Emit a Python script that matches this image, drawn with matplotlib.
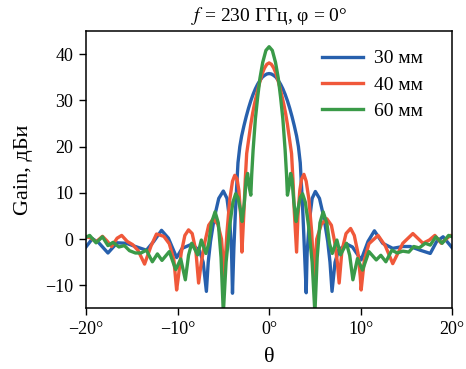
import matplotlib
matplotlib.use("Agg")
import matplotlib.pyplot as plt

plt.rcParams['font.family'] = ['Liberation Serif', 'DejaVu Serif']
plt.rcParams['mathtext.fontset'] = 'stix'
plt.rcParams['axes.unicode_minus'] = True

# 30 мм (синяя)
theta_30 = [-20, -19.3, -18.6, -17.6, -16.6, -15.6, -14.6, -13.4, -12.6, -11.75, -11.0, -10.1,
            -9.5, -8.45, -7.6, -7.2, -6.85, -6.65, -6.4, -6.0, -5.5, -5.0, -4.6, -4.3, -4.1, -4.0,
            -3.85, -3.7, -3.55, -3.4, -3.2, -3.0, -2.75, -2.5, -2.25, -2.0, -1.75, -1.5, -1.25,
            -1.0, -0.75, -0.5, -0.25, 0,
            0.25, 0.5, 0.75, 1.0, 1.25, 1.5, 1.75, 2.0, 2.25, 2.5, 2.75, 3.0, 3.2, 3.4, 3.55,
            3.7, 3.85, 4.05,
            4.15, 4.4, 4.7, 5.05, 5.5, 6.0, 6.4, 6.65, 6.87, 7.2, 7.6, 8.5,
            9.1, 10.05, 10.8, 11.5, 12.4, 13.5, 14.6, 15.4, 16.5, 17.6, 18.3, 19.0, 20]
gain_30 = [-1.7, 0.1, -0.8, -3.0, -0.8, -0.9, -1.6, -2.4, -0.5, 1.9, 0.2, -4.0,
           -2.0, -1.1, -2.5, -5.0, -11.3, -5.0, -0.5, 4.5, 8.8, 10.4, 8.8, 4.0, -3.0, -11.7,
           -2.0, 5.0, 11.0, 16.5, 20.0, 22.3, 24.5, 26.5, 28.3, 29.9, 31.3, 32.5, 33.5,
           34.3, 35.0, 35.4, 35.7, 35.8,
           35.7, 35.4, 35.0, 34.3, 33.5, 32.5, 31.3, 29.9, 28.3, 26.5, 24.5, 22.3, 20.0, 16.5, 11.0,
           5.0, -2.0, -11.6,
           -3.0, 4.0, 8.8, 10.3, 8.8, 4.5, -0.5, -5.0, -11.3, -5.0, -2.3, -1.1,
           -1.7, -4.5, -0.5, 1.8, -0.9, -2.0, -1.6, -1.6, -2.4, -3.1, -0.5, 0.5, -1.9]

# 40 мм (красная)
theta_40 = [-20, -19.5, -18.9, -18.2, -17.7, -17.2, -16.6, -16.1, -15.5, -14.9, -14.3, -13.6,
            -12.9, -12.3, -11.5, -10.9, -10.4, -10.1, -9.9, -9.6, -9.2, -8.8, -8.4, -8.0, -7.7,
            -7.4, -7.0, -6.6, -6.1, -5.6, -5.2, -4.9, -4.6, -4.3, -4.0, -3.75, -3.5, -3.3, -3.1,
            -2.97, -2.75, -2.6, -2.45, -2.2, -2.0, -1.8, -1.6, -1.4, -1.2, -1.0, -0.75, -0.5,
            -0.25, 0,
            0.25, 0.5, 0.75, 1.0, 1.2, 1.4, 1.6, 1.8, 2.0, 2.2, 2.45, 2.6, 2.75, 3.0,
            3.15, 3.35, 3.55, 3.8, 4.05, 4.35, 4.65, 4.9, 5.2, 5.7, 6.3, 6.8, 7.15, 7.45, 7.65,
            7.95, 8.4, 8.9, 9.3, 9.7, 9.95, 10.05, 10.4, 10.9, 11.9, 12.7, 13.5, 14.6, 15.7,
            16.8, 17.5, 18.1, 18.8, 19.8, 20]
gain_40 = [0.5, 0.3, -0.6, 0.6, -0.4, -1.6, 0.2, 0.8, -0.5, -1.2, -2.5, -5.4,
           -1.5, 1.1, 0.6, -1.0, -4.5, -11.0, -8.0, -3.0, 0.8, 2.0, 1.2, -2.5, -9.5,
           -5.0, -0.5, 3.0, 4.4, 3.2, 0.0, -8.0, 1.5, 8.5, 12.5, 13.8, 13.0, 10.5, 5.0,
           -2.8, 6.0, 13.0, 18.5, 22.0, 24.8, 27.2, 29.2, 30.9, 32.6, 34.1, 35.8, 37.0,
           37.8, 38.1,
           37.8, 37.0, 35.8, 34.1, 32.6, 30.9, 29.2, 27.2, 24.8, 22.0, 18.5, 13.0, 6.0, -2.8,
           5.0, 10.5, 13.0, 14.0, 12.5, 8.5, 1.5, -8.0, 0.0, 3.2, 4.4, 3.0, -0.5, -5.0, -9.5,
           -2.5, 1.2, 2.3, 0.8, -3.0, -8.0, -11.0, -4.5, -1.0, 0.8, -1.5, -5.3, -0.9, 1.2,
           -0.9, -0.2, 0.8, -0.9, 0.8, 0.6]

# 60 мм (зелёная)
theta_60 = [-20, -19.6, -18.9, -18.2, -17.6, -17.05, -16.4, -15.8, -15.25, -14.6, -14.0, -13.4,
            -12.75, -12.2, -11.7, -10.9, -10.2, -9.65, -9.15, -8.8, -8.45, -7.8, -7.4, -6.9,
            -6.6, -6.3, -5.9, -5.55, -5.25, -5.0, -4.7, -4.3, -3.95, -3.65, -3.4, -3.15, -2.95,
            -2.7, -2.5, -2.35, -2.15, -2.0, -1.9, -1.75, -1.5, -1.25, -1.0, -0.7, -0.35, 0,
            0.35, 0.7, 1.0, 1.25, 1.5, 1.75, 1.9, 2.0, 2.15, 2.35, 2.5, 2.7,
            2.95, 3.15, 3.4, 3.65, 3.95, 4.3, 4.7, 5.0, 5.25, 5.55, 5.9, 6.3, 6.6, 6.9,
            7.4, 7.8, 8.45, 8.8, 9.15, 9.65, 10.2, 10.9, 11.7, 12.2, 12.75, 13.4, 14.0, 14.6,
            15.25, 15.8, 16.4, 17.05, 17.6, 18.2, 18.9, 19.6, 20]
gain_60 = [0.4, 0.8, -0.8, 0.5, -1.4, -0.7, -1.7, -1.4, -2.5, -3.0, -3.0, -2.4,
           -4.9, -3.2, -4.6, -2.7, -6.6, -4.3, -8.8, -3.5, -0.9, -3.4, -0.2, -3.1,
           -1.0, 3.5, 5.9, 3.5, -4.0, -16.0, -5.0, 3.0, 8.0, 9.8, 9.0, 6.5, 3.8,
           8.0, 13.0, 14.2, 11.0, 9.5, 14.0, 19.2, 26.0, 30.7, 34.8, 38.2, 40.8, 41.6,
           40.8, 38.2, 34.8, 30.7, 26.0, 19.2, 14.0, 9.5, 11.0, 14.2, 13.0, 8.0,
           3.8, 6.5, 9.0, 9.8, 8.0, 3.0, -5.0, -16.0, -4.0, 3.5, 5.9, 3.5, -1.0, -3.1,
           -0.2, -3.4, -0.9, -3.5, -8.8, -4.2, -6.7, -2.7, -4.5, -3.5, -4.9, -2.4, -3.0, -2.6,
           -2.8, -1.6, -1.9, -0.9, -1.3, 0.5, -0.9, 0.8, 0.5]

x_ticks = [-20, -10, 0, 10, 20]
x_labels = ['\u221220°', '\u221210°', '0°', '10°', '20°']
y_ticks = [-10, 0, 10, 20, 30, 40]

fig = plt.figure(figsize=(4.66, 3.69), dpi=100)
ax = fig.add_axes([0.1845, 0.164, 0.786, 0.752])

ax.plot(theta_30, gain_30, color='#2760ad', lw=2.4, label='30 мм')
ax.plot(theta_40, gain_40, color='#f0583a', lw=2.4, label='40 мм')
ax.plot(theta_60, gain_60, color='#3a9a48', lw=2.4, label='60 мм')

ax.set_xlim(-20, 20)
ax.set_ylim(-15, 45)
ax.set_xticks(x_ticks)
ax.set_xticklabels(x_labels)
ax.set_yticks(y_ticks)
ax.tick_params(labelsize=13, length=5, width=1, pad=4)
for s in ax.spines.values():
    s.set_linewidth(1.1)

ax.set_title('$f$ = 230 ГГц, φ = 0°', fontsize=14, pad=7)
ax.set_xlabel('θ', fontsize=16, labelpad=7)
ax.set_ylabel('Gain, дБи', fontsize=16, labelpad=9)

ax.legend(loc='upper right', bbox_to_anchor=(0.94, 0.96), frameon=False, fontsize=14,
          handlelength=2.1, borderaxespad=0, labelspacing=0.45, handletextpad=0.55)

fig.savefig('out.png', dpi=100)
